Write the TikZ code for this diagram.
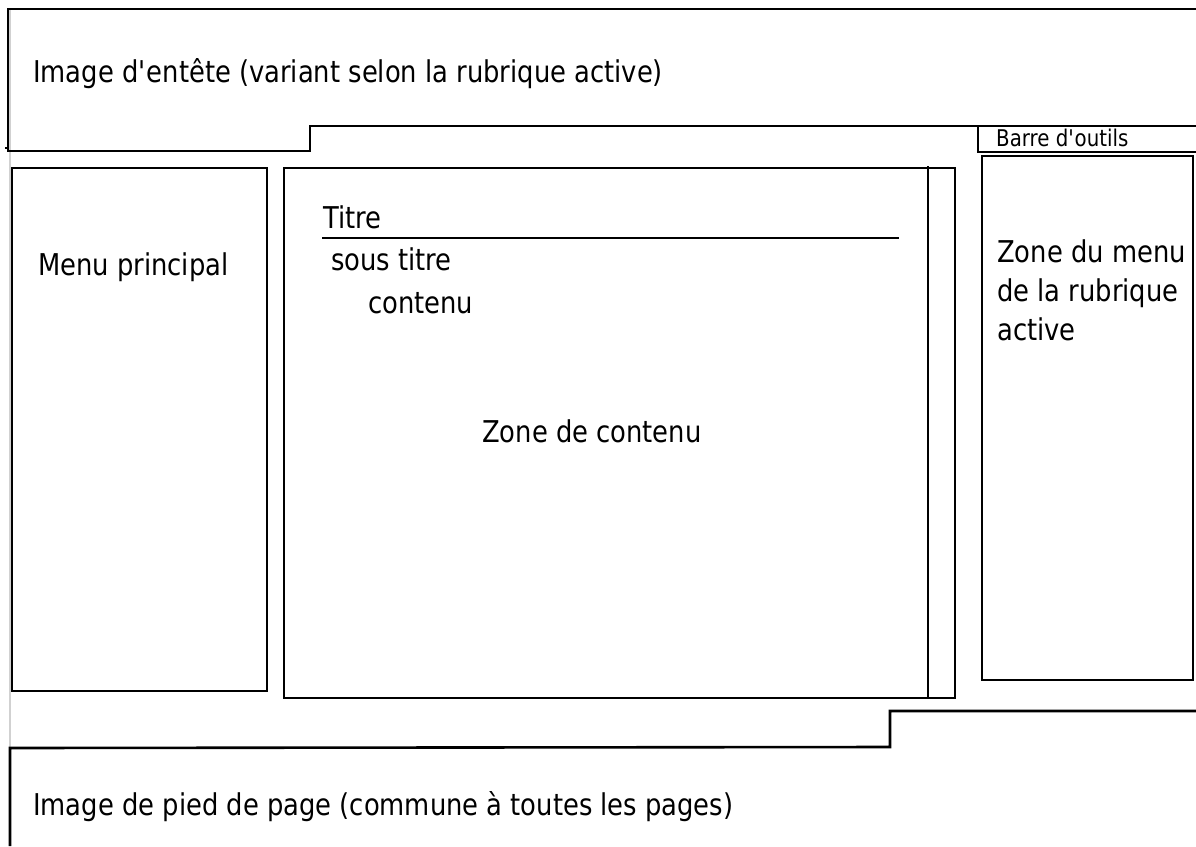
\documentclass[tikz,border=0pt]{standalone}
\usepackage{fontspec}
\setmainfont{DejaVu Sans}[FakeStretch=0.86]
\begin{document}
\begin{tikzpicture}[x=1pt,y=-1pt,
  frame/.style={draw=black,line width=2.6pt,line join=miter},
  guide/.style={draw=black!18,line width=1.2pt},
  lbl/.style={anchor=base west,inner sep=0pt,font=\fontsize{30}{39}\selectfont},
  smalllbl/.style={anchor=base west,inner sep=0pt,font=\fontsize{23}{28}\selectfont}]
\useasboundingbox (0,0) rectangle (1196,846);
\fill[white] (0,0) rectangle (1196,846);

% faint page margin guide
\draw[guide] (10,10) -- (10,846);

% header band with its notch
\coordinate (hTR) at (1196,9);
\coordinate (hTL) at (8,9);
\coordinate (hBL) at (8,151);
\coordinate (hN1) at (310,151);
\coordinate (hN2) at (310,126);
\coordinate (hBR) at (1196,126);
\draw[frame] (hTR) -- (hTL) -- (hBL) -- (hN1) -- (hN2) -- (hBR);
\draw[black,line width=1.5pt] (5,148) -- (8,148);

% toolbar strip
\coordinate (tbT) at (978,126);
\coordinate (tbB) at (978,152);
\coordinate (tbR) at (1196,152);
\draw[frame] (tbT) -- (tbB) -- (tbR);

% main menu column
\draw[frame] (12,168) rectangle (267,691);

% content area with its scroll bar
\draw[frame] (284,168) rectangle (955,698);
\coordinate (sbT) at (928,166);
\coordinate (sbB) at (928,698);
\draw[frame] (sbT) -- (sbB);

% section menu column
\draw[frame] (982,156) rectangle (1193,680);

% title rule
\coordinate (trL) at (322,238);
\coordinate (trR) at (899,238);
\draw[frame] (trL) -- (trR);

% footer band with its notch
\coordinate (fBL) at (10,846);
\coordinate (fTL) at (10,748);
\coordinate (fN1) at (890,747);
\coordinate (fN2) at (890,711);
\coordinate (fTR) at (1196,711);
\draw[frame] (fBL) -- (fTL) -- (fN1) -- (fN2) -- (fTR);

% labels
\node[lbl] (header) at (33,82) {Image d\textquotesingle entête (variant selon la rubrique active)};
\node[smalllbl] (toolbar) at (996,146) {Barre d\textquotesingle outils};
\node[lbl] (mainmenu) at (38,275) {Menu principal};
\node[lbl] (title) at (323,228) {Titre};
\node[lbl] (subtitle) at (331,270) {sous titre};
\node[lbl] (body) at (368,313) {contenu};
\node[lbl] (content) at (482,442) {Zone de contenu};
\node[lbl,anchor=base west,align=left] (sectionmenu) at (997,340) {Zone du menu\\de la rubrique\\active};
\node[lbl] (footer) at (33,815) {Image de pied de page (commune à toutes les pages)};
\end{tikzpicture}
\end{document}
